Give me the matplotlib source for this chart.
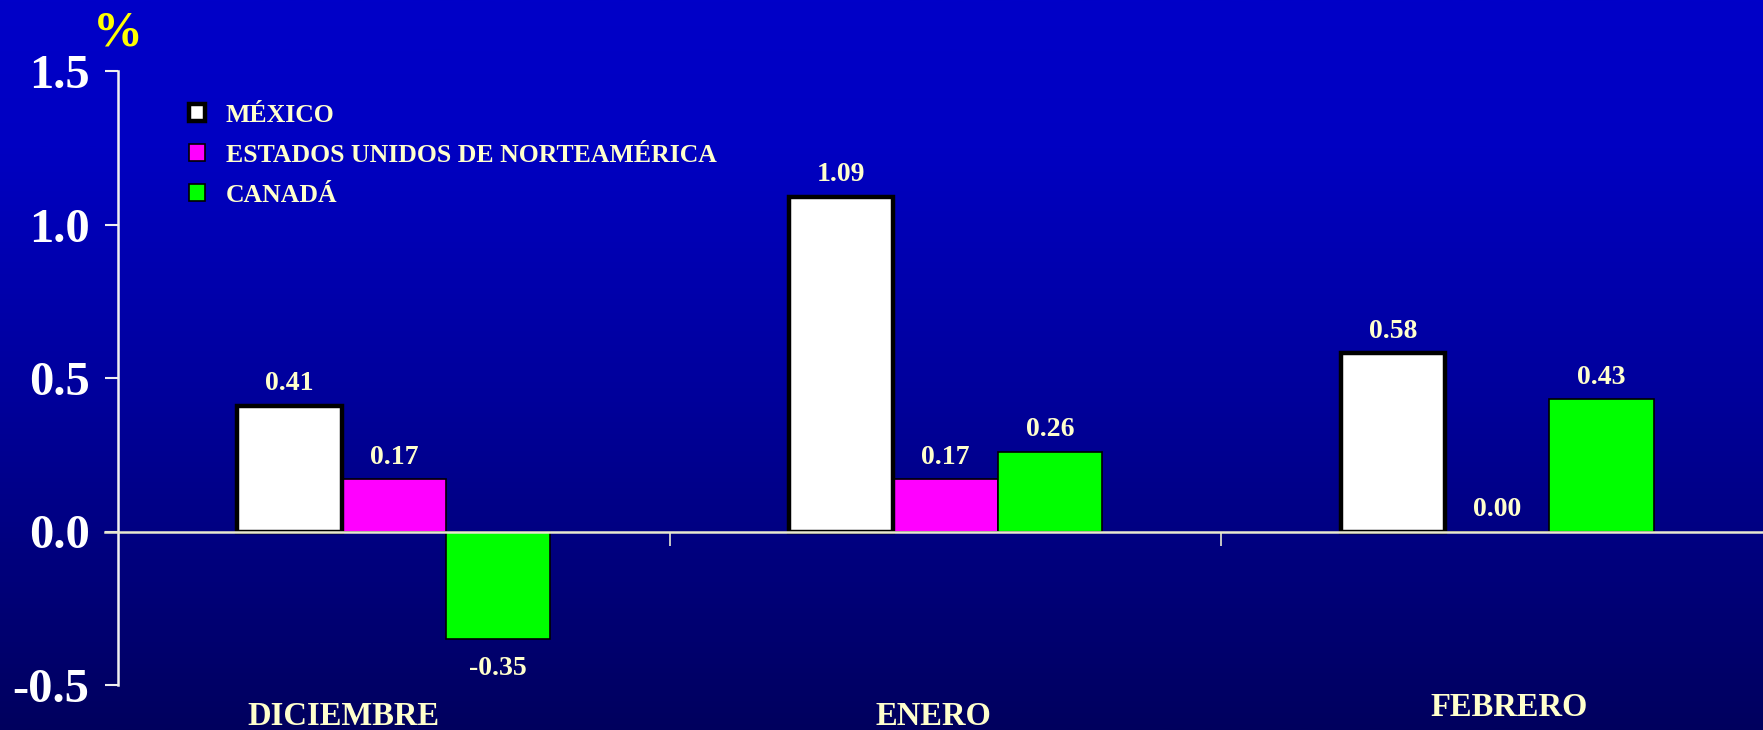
import numpy as np
import matplotlib
matplotlib.use("Agg")
import matplotlib.pyplot as plt
from matplotlib.colors import LinearSegmentedColormap

categories = ["DICIEMBRE", "ENERO", "FEBRERO"]
series_names = ["MÉXICO", "ESTADOS UNIDOS DE NORTEAMÉRICA", "CANADÁ"]
mexico = [0.41, 1.09, 0.58]
eua = [0.17, 0.17, 0.00]
canada = [-0.35, 0.26, 0.43]
yticks = [-0.5, 0.0, 0.5, 1.0, 1.5]
ytick_labels = ["-0.5", "0.0", "0.5", "1.0", "1.5"]

W, H = 1763, 730
fig = plt.figure(figsize=(W / 100, H / 100), dpi=100)

# gradient background
bg = fig.add_axes([0, 0, 1, 1], zorder=-10)
cmap = LinearSegmentedColormap.from_list(
    "bgc", [(0.0, "#0000C8"), (0.2, "#0000C2"), (0.55, "#00009A"), (1.0, "#00005E")])
grad = np.linspace(0, 1, 512).reshape(-1, 1)
bg.imshow(grad, aspect="auto", cmap=cmap, extent=[0, 1, 0, 1], origin="upper")
bg.set_axis_off()

left = 118 / W
right = 1773 / W
bottom = (H - 685) / H
top = (H - 71) / H
ax = fig.add_axes([left, bottom, right - left, top - bottom])
ax.patch.set_alpha(0)

x = np.arange(len(categories))
w = 0.189
series = [mexico, eua, canada]
fills = ["#FFFFFF", "#FF00FF", "#00FF00"]
edges_lw = [3.2, 1.2, 1.2]
for i, (vals, fc, lw, name) in enumerate(zip(series, fills, edges_lw, series_names)):
    ax.bar(x + (i - 1) * w, vals, w, color=fc, edgecolor="black",
           linewidth=lw, label=name, zorder=3 if i == 0 else 2)
    for xi, v in zip(x + (i - 1) * w, vals):
        if v < 0:
            ax.annotate(f"{v:.2f}", (xi, v), xytext=(0, -12), textcoords="offset points",
                        ha="center", va="top", fontsize=20, fontweight="bold",
                        family="Liberation Serif", color="#FFFFCC")
        else:
            ax.annotate(f"{v:.2f}", (xi, v), xytext=(0, 7), textcoords="offset points",
                        ha="center", va="bottom", fontsize=20, fontweight="bold",
                        family="Liberation Serif", color="#FFFFCC")

ax.set_xlim(-0.5, 2.5)
ax.set_ylim(-0.5, 1.5)
ax.set_yticks(yticks)
ax.set_yticklabels(ytick_labels, fontsize=35, fontweight="bold",
                   family="Liberation Serif", color="white")
ax.tick_params(axis="y", length=9.5, width=1.5, color="#F0F0F0", pad=11)
ax.set_xticks([0.5, 1.5])
ax.set_xticklabels([])
ax.tick_params(axis="x", length=10, width=1.2, color="#E8E8D0", direction="out")

ax.spines["top"].set_visible(False)
ax.spines["right"].set_visible(False)
ax.spines["left"].set_color("#F0F0F0")
ax.spines["left"].set_linewidth(1.8)
ax.spines["bottom"].set_position(("data", 0))
ax.spines["bottom"].set_color("#E8E8D0")
ax.spines["bottom"].set_linewidth(1.8)
ax.spines["bottom"].set_bounds(-0.5 - 13 / 551, 2.5)
ax.spines["bottom"].set_zorder(4)

# category labels
label_dx = [-0.092, -0.022, 0.022]
label_y = [-0.051, -0.051, -0.036]
for xi, lab, dx, yy in zip(x, categories, label_dx, label_y):
    ax.text(xi + dx, yy, lab, transform=ax.get_xaxis_transform(), ha="center", va="center",
            fontsize=23.5, fontweight="bold", family="Liberation Serif", color="#FFFFCC",
            clip_on=False)

# percent sign
fig.text(118 / W, 1 - 33 / H, "%", ha="center", va="center", fontsize=36,
         fontweight="bold", family="Liberation Serif", color="#FFFF00")

leg = ax.legend(loc="upper left", bbox_to_anchor=(189 / W, 1 - 104 / H),
                bbox_transform=fig.transFigure, frameon=False, borderpad=0,
                handlelength=0.64, handleheight=0.64, handletextpad=0.8,
                labelspacing=0.66, borderaxespad=0,
                prop={"family": "Liberation Serif", "weight": "bold", "size": 18.5})
for t in leg.get_texts():
    t.set_color("#FFFFCC")

fig.savefig("out.png", dpi=100)
